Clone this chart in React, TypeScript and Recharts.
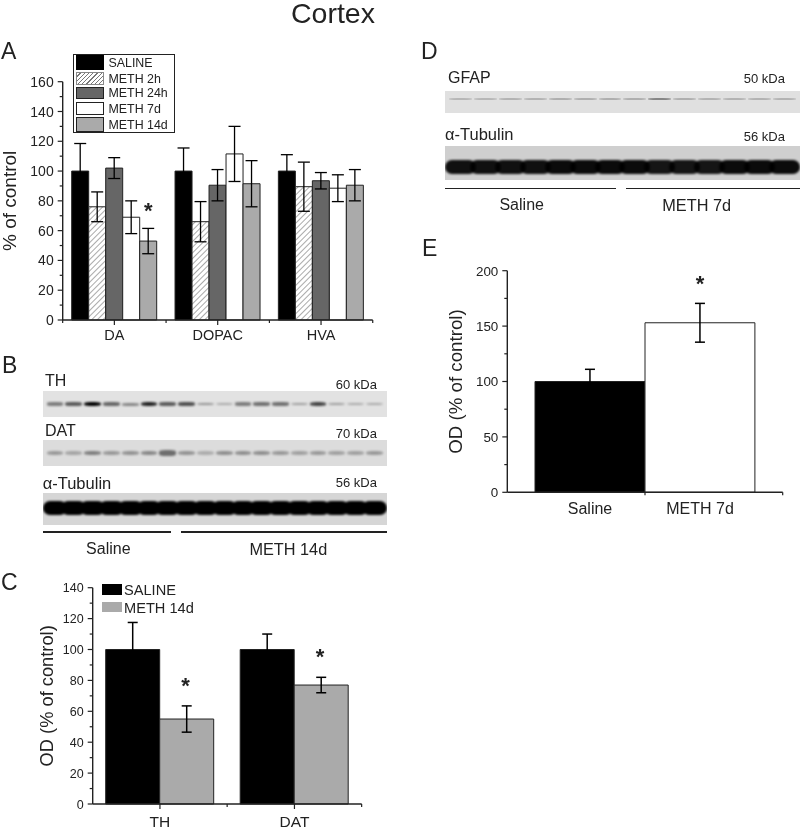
import React from 'react';
import { BarChart, Bar, XAxis, YAxis, ErrorBar, ReferenceDot } from 'recharts';

const FONT = '"Liberation Sans", Arial, sans-serif';
const INK = '#222';

// Panel A - monoamines
const categoriesA = ['DA', 'DOPAC', 'HVA'];
const seriesNamesA = ['SALINE', 'METH 2h', 'METH 24h', 'METH 7d', 'METH 14d'];
const seriesFillsA = ['#000', 'url(#hatchA)', '#666', '#fff', '#aaa'];
const salineA = [100, 100, 100];
const meth2hA = [76, 66, 89.5];
const meth24hA = [102, 90.5, 93.5];
const meth7dA = [69, 111.5, 88.5];
const meth14dA = [53, 91.5, 90.5];
const salineErrA = [18.5, 15.5, 11];
const meth2hErrA = [10, 13.5, 16.5];
const meth24hErrA = [7, 10.5, 5.5];
const meth7dErrA = [11, 18.5, 9];
const meth14dErrA = [8.5, 15.5, 10.5];
const yTicksA = [0, 10, 20, 30, 40, 50, 60, 70, 80, 90, 100, 110, 120, 130, 140, 150, 160];
const starsA = [{ cat: 'DA', value: 74.4 }];

// Panel C - TH / DAT
const categoriesC = ['TH', 'DAT'];
const salineC = [100, 100];
const meth14dC = [55, 77];
const salineErrC = [17.5, 10];
const meth14dErrC = [8.5, 5];
const yTicksC = [0, 10, 20, 30, 40, 50, 60, 70, 80, 90, 100, 110, 120, 130, 140];
const starsC = [{ cat: 'TH', value: 77.7 }, { cat: 'DAT', value: 96.5 }];

// Panel E - GFAP
const categoriesE = ['Saline', 'METH 7d'];
const valuesE = [100, 153];
const errorsE = [11, 17.5];
const yTicksE = [0, 25, 50, 75, 100, 125, 150, 175, 200];
const starsE = [{ cat: 'METH 7d', value: 190 }];

// Western blot band strength per lane (0-1)
const lanesTH = [0.45, 0.6, 1, 0.55, 0.4, 0.85, 0.6, 0.65, 0.35, 0.25, 0.45, 0.5, 0.5, 0.3, 0.7, 0.3, 0.25, 0.25];
const lanesDAT = [0.3, 0.25, 0.42, 0.3, 0.33, 0.38, 0.5, 0.33, 0.22, 0.35, 0.35, 0.35, 0.3, 0.27, 0.3, 0.27, 0.27, 0.3];
const lanesTubB = [1, 1, 1, 1, 1, 1, 1, 1, 1, 1, 1, 1, 1, 1, 1, 1, 1, 1];
const lanesGFAP = [0.18, 0.18, 0.2, 0.2, 0.22, 0.22, 0.22, 0.22, 0.4, 0.22, 0.2, 0.2, 0.2, 0.2];
const lanesTubD = [0.92, 0.92, 0.92, 0.92, 0.95, 0.95, 0.95, 0.95, 0.9, 0.9, 0.9, 0.95, 0.95, 0.95];

const rowsA = categoriesA.map((name, i) => ({
    name,
    s0: salineA[i], e0: salineErrA[i],
    s1: meth2hA[i], e1: meth2hErrA[i],
    s2: meth24hA[i], e2: meth24hErrA[i],
    s3: meth7dA[i], e3: meth7dErrA[i],
    s4: meth14dA[i], e4: meth14dErrA[i],
}));
const rowsC = categoriesC.map((name, i) => ({
    name, saline: salineC[i], salineErr: salineErrC[i], meth: meth14dC[i], methErr: meth14dErrC[i],
}));
const rowsE = categoriesE.map((name, i) => ({ name, value: valuesE[i], err: errorsE[i], fill: i === 0 ? '#000' : '#fff' }));

// draws tick mark + label by hand so the minor ticks stay unlabeled
const makeYTick = (labelEvery: number, fontSize: number) => (props: any) => {
    const { x, y, payload } = props;
    const major = payload.value % labelEvery === 0;
    return (
        <g>
            <line x1={x - (major ? 5 : 3)} x2={x} y1={y} y2={y} stroke={INK} strokeWidth={1.2} />
            {major && (
                <text x={x - 9} y={y + fontSize * 0.36} textAnchor="end" fontSize={fontSize} fontFamily={FONT} fill={INK}>
                    {payload.value}
                </text>
            )}
        </g>
    );
};

const makeXTick = (centerLen: number, edges: number[][], fontSize: number, labelDy: number) => (props: any) => {
    const { x, y, payload, index } = props;
    const idx = index ?? payload.index ?? 0;
    return (
        <g>
            {centerLen > 0 && <line x1={x} x2={x} y1={y} y2={y + centerLen} stroke={INK} strokeWidth={1.2} />}
            {(edges[idx] || []).map((off, i) => (
                <line key={i} x1={x + off} x2={x + off} y1={y} y2={y + 3} stroke={INK} strokeWidth={1.2} />
            ))}
            <text x={x} y={y + labelDy} textAnchor="middle" fontSize={fontSize} fontFamily={FONT} fill={INK}>
                {payload.value}
            </text>
        </g>
    );
};

const makeStar = (dx: number) => (props: any) => (
    <text x={props.cx + dx} y={props.cy + 9} textAnchor="middle" fontSize={22} fontWeight="bold" fontFamily={FONT} fill={INK}>
        *
    </text>
);

const Txt = ({ x, y, size, children, anchor = 'left', weight, leading = 1 }: any) => (
    <div
        style={{
            position: 'absolute',
            left: x,
            top: y,
            transform: `translate(${anchor === 'center' ? '-50%' : anchor === 'right' ? '-100%' : '0'}, -50%)`,
            fontSize: size,
            lineHeight: leading,
            fontFamily: FONT,
            color: INK,
            fontWeight: weight,
            whiteSpace: 'nowrap',
        }}
    >
        {children}
    </div>
);

const Box = ({ x, y, w, h, bg, style }: any) => (
    <div style={{ position: 'absolute', left: x, top: y, width: w, height: h, background: bg, ...style }} />
);

// thin=true: separate protein bands, thin=false: saturated loading control that merges into one strip
const Blot = ({ x, y, w, h, bg, lanes, bandHeight, bandTop, blur = 1, thin = false }: any) => (
    <div style={{ position: 'absolute', left: x, top: y, width: w, height: h, background: bg, overflow: 'hidden' }}>
        <div style={{ position: 'absolute', left: 3, right: 3, top: bandTop, display: 'flex', alignItems: 'center', height: bandHeight, filter: `blur(${blur}px)` }}>
            {lanes.map((v: number, i: number) => (
                <div
                    key={i}
                    style={{
                        flex: 1,
                        margin: thin ? '0 1px' : '0 -3px',
                        height: thin ? Math.max(2, bandHeight * (0.45 + v * 0.55)) : bandHeight,
                        background: `rgba(0,0,0,${v})`,
                        borderRadius: thin ? '35%' : 7,
                    }}
                />
            ))}
        </div>
    </div>
);

const axisLine = { stroke: INK, strokeWidth: 1.4 };

const PanelA = () => (
    <BarChart
        width={400}
        height={300}
        data={rowsA}
        barSize={17}
        barGap={0}
        margin={{ top: 21.7, right: 27.3, bottom: 10, left: 0 }}
    >
        <defs>
            <pattern id="hatchA" width="4" height="4" patternUnits="userSpaceOnUse" patternTransform="rotate(45)">
                <rect width="4" height="4" fill="#fff" />
                <line x1="0" y1="0" x2="0" y2="4" stroke="#555" strokeWidth="1" />
            </pattern>
        </defs>
        <XAxis
            dataKey="name"
            height={30}
            tickSize={0}
            tickMargin={0}
            tickLine={false}
            axisLine={axisLine}
            interval={0}
            tick={makeXTick(5, [[-51.7, 51.7], [51.7], [51.7]], 14.5, 20)}
        />
        <YAxis
            width={62.7}
            domain={[0, 160]}
            ticks={yTicksA}
            interval={0}
            tickSize={0}
            tickMargin={0}
            tickLine={false}
            axisLine={axisLine}
            tick={makeYTick(20, 14)}
            label={{ value: '% of control', angle: -90, position: 'insideLeft', offset: 9, style: { textAnchor: 'middle', fontSize: 19, fontFamily: FONT, fill: INK } }}
        />
        {seriesFillsA.map((fill, i) => (
            <Bar key={i} dataKey={`s${i}`} fill={fill} stroke={INK} strokeWidth={1} isAnimationActive={false}>
                <ErrorBar dataKey={`e${i}`} direction="y" width={6} stroke="#000" strokeWidth={1.3} />
            </Bar>
        ))}
        {starsA.map((s) => (
            <ReferenceDot key={s.cat} x={s.cat} y={s.value} ifOverflow="visible" shape={makeStar(34)} />
        ))}
    </BarChart>
);

const PanelC = () => (
    <BarChart
        width={400}
        height={259}
        data={rowsC}
        barSize={54}
        barGap={0}
        margin={{ top: 17.7, right: 38.3, bottom: 0, left: 0 }}
    >
        <XAxis
            dataKey="name"
            height={25}
            tickSize={0}
            tickMargin={0}
            tickLine={false}
            axisLine={axisLine}
            interval={0}
            tick={makeXTick(5, [[67.2], [67.2]], 15.5, 23)}
        />
        <YAxis
            width={92.7}
            domain={[0, 140]}
            ticks={yTicksC}
            interval={0}
            tickSize={0}
            tickMargin={0}
            tickLine={false}
            axisLine={axisLine}
            tick={makeYTick(20, 12.5)}
            label={{ value: 'OD (% of control)', angle: -90, position: 'insideLeft', offset: 46.5, style: { textAnchor: 'middle', fontSize: 18.3, fontFamily: FONT, fill: INK } }}
        />
        <Bar dataKey="saline" fill="#000" stroke={INK} isAnimationActive={false}>
            <ErrorBar dataKey="salineErr" direction="y" width={5} stroke="#000" strokeWidth={1.5} />
        </Bar>
        <Bar dataKey="meth" fill="#aaa" stroke={INK} isAnimationActive={false}>
            <ErrorBar dataKey="methErr" direction="y" width={5} stroke="#000" strokeWidth={1.5} />
        </Bar>
        {starsC.map((s) => (
            <ReferenceDot key={s.cat} x={s.cat} y={s.value} ifOverflow="visible" shape={makeStar(25.5)} />
        ))}
    </BarChart>
);

const PanelE = () => (
    <BarChart
        width={400}
        height={280}
        data={rowsE}
        barSize={109.9}
        barGap={0}
        margin={{ top: 20.7, right: 17.3, bottom: 7.7, left: 0 }}
    >
        <XAxis
            dataKey="name"
            height={30}
            tickSize={0}
            tickMargin={0}
            tickLine={false}
            axisLine={axisLine}
            interval={0}
            padding={{ left: 27.7, right: 27.7 }}
            tick={makeXTick(0, [[55], [82.7]], 16, 22)}
        />
        <YAxis
            width={107.3}
            domain={[0, 200]}
            ticks={yTicksE}
            interval={0}
            tickSize={0}
            tickMargin={0}
            tickLine={false}
            axisLine={axisLine}
            tick={makeYTick(50, 13.4)}
            label={{ value: 'OD (% of control)', angle: -90, position: 'insideLeft', offset: 55.5, style: { textAnchor: 'middle', fontSize: 18.7, fontFamily: FONT, fill: INK } }}
        />
        <Bar dataKey="value" stroke={INK} isAnimationActive={false}>
            <ErrorBar dataKey="err" direction="y" width={5} stroke="#000" strokeWidth={1.5} />
        </Bar>
        {starsE.map((s) => (
            <ReferenceDot key={s.cat} x={s.cat} y={s.value} ifOverflow="visible" shape={makeStar(0)} />
        ))}
    </BarChart>
);

const legendTopsA = [55, 72, 87, 102, 117];
const legendHeightsA = [15, 13, 12, 13, 15];

const LegendA = () => (
    <div style={{ position: 'absolute', left: 73, top: 54, width: 100, height: 77, border: `1.5px solid ${INK}`, background: '#fff' }}>
        {seriesNamesA.map((name, i) => {
            const fill = seriesFillsA[i];
            const hatch = 'repeating-linear-gradient(135deg, #fff 0 2px, #777 2px 3px)';
            return (
                <React.Fragment key={name}>
                    <div
                        style={{
                            position: 'absolute',
                            left: 2,
                            top: legendTopsA[i] - 55,
                            width: 28,
                            height: legendHeightsA[i],
                            background: fill.startsWith('url') ? hatch : fill,
                            border: i === 0 ? 'none' : `1px solid ${i === 1 ? '#888' : INK}`,
                            boxSizing: 'border-box',
                        }}
                    />
                    <div
                        style={{
                            position: 'absolute',
                            left: 34.5,
                            top: legendTopsA[i] - 55 + legendHeightsA[i] / 2 - 6,
                            fontSize: 12.4,
                            lineHeight: '12.4px',
                            fontFamily: FONT,
                            color: INK,
                            whiteSpace: 'nowrap',
                        }}
                    >
                        {name}
                    </div>
                </React.Fragment>
            );
        })}
    </div>
);

export default function App() {
    return (
        <div style={{ position: 'absolute', left: 0, top: 0, width: 800, height: 829, background: '#fff', overflow: 'hidden', filter: 'blur(0.45px)' }}>
            <Txt x={291} y={14} size={28.5} leading={0.9}>Cortex</Txt>

            <Txt x={1} y={51} size={23}>A</Txt>
            <Txt x={2} y={365} size={23}>B</Txt>
            <Txt x={1} y={582} size={23}>C</Txt>
            <Txt x={421} y={51} size={23}>D</Txt>
            <Txt x={422} y={248} size={23}>E</Txt>

            <div style={{ position: 'absolute', left: 0, top: 60 }}><PanelA /></div>
            <LegendA />

            {/* panel B blots */}
            <Txt x={45} y={381} size={16}>TH</Txt>
            <Txt x={377} y={384} size={13} anchor="right">60 kDa</Txt>
            <Blot x={42.7} y={391.3} w={344} h={25.4} bg="#e2e2e2" lanes={lanesTH} bandHeight={4.5} bandTop={10.5} blur={0.8} thin />
            <Txt x={45} y={431} size={16}>DAT</Txt>
            <Txt x={377} y={433} size={13} anchor="right">70 kDa</Txt>
            <Blot x={42.7} y={440} w={344} h={25.7} bg="#dcdcdc" lanes={lanesDAT} bandHeight={7} bandTop={9.5} thin />
            <Txt x={42.7} y={483} size={16.5}>α-Tubulin</Txt>
            <Txt x={377} y={482} size={13} anchor="right">56 kDa</Txt>
            <Blot x={42.7} y={493.3} w={344} h={31.4} bg="#d6d6d6" lanes={lanesTubB} bandHeight={14} bandTop={8} />
            <Box x={42.7} y={531} w={128} h={1.5} bg={INK} />
            <Box x={180.7} y={531} w={206} h={1.5} bg={INK} />
            <Txt x={108.3} y={549} size={16} anchor="center">Saline</Txt>
            <Txt x={288.3} y={549} size={16.3} anchor="center">METH 14d</Txt>

            <div style={{ position: 'absolute', left: 0, top: 570 }}><PanelC /></div>
            <Box x={101.7} y={584} w={20} h={11} bg="#000" />
            <Txt x={124} y={590} size={14.6}>SALINE</Txt>
            <Box x={101.7} y={601.7} w={20} h={10.6} bg="#aaa" />
            <Txt x={124} y={607.5} size={14.6}>METH 14d</Txt>

            {/* panel D blots */}
            <Txt x={448} y={77.7} size={16}>GFAP</Txt>
            <Txt x={785} y={77.7} size={13} anchor="right">50 kDa</Txt>
            <Blot x={445} y={90.7} w={355} h={22} bg="#e0e0e0" lanes={lanesGFAP} bandHeight={3} bandTop={7} blur={0.7} thin />
            <Txt x={445} y={134} size={16.5}>α-Tubulin</Txt>
            <Txt x={785} y={136} size={13} anchor="right">56 kDa</Txt>
            <Blot x={445} y={145.7} w={355} h={34.3} bg="#cfcfcf" lanes={lanesTubD} bandHeight={14} bandTop={14} />
            <Box x={445} y={187.5} w={171} h={1.5} bg={INK} />
            <Box x={626} y={187.5} w={174} h={1.5} bg={INK} />
            <Txt x={521.7} y={205} size={16} anchor="center">Saline</Txt>
            <Txt x={696.7} y={205} size={16.3} anchor="center">METH 7d</Txt>

            <div style={{ position: 'absolute', left: 400, top: 250 }}><PanelE /></div>
        </div>
    );
}
